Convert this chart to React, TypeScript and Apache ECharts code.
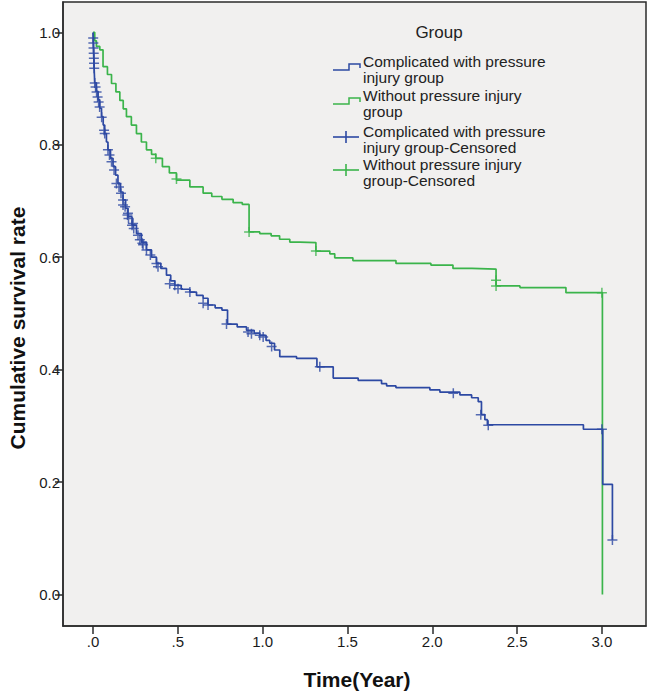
import React, { useEffect, useRef } from "react";
import * as echarts from "echarts";

// Kaplan-Meier curves: [time (year), cumulative survival]
const pressureCurve: number[][] = [
  [0, 1.0], [0.003, 0.97], [0.006, 0.94], [0.01, 0.91], [0.02, 0.895], [0.03, 0.88],
  [0.04, 0.865], [0.05, 0.85], [0.06, 0.835], [0.069, 0.82], [0.079, 0.805], [0.088, 0.791],
  [0.103, 0.776], [0.118, 0.761], [0.133, 0.746], [0.147, 0.731], [0.162, 0.716], [0.177, 0.702],
  [0.192, 0.687], [0.206, 0.672], [0.23, 0.657], [0.256, 0.642], [0.285, 0.627], [0.315, 0.613],
  [0.345, 0.6], [0.374, 0.589], [0.4, 0.58], [0.433, 0.568], [0.458, 0.558], [0.482, 0.55],
  [0.52, 0.543], [0.571, 0.538], [0.61, 0.532], [0.649, 0.527], [0.678, 0.515], [0.72, 0.51],
  [0.76, 0.506], [0.793, 0.481], [0.85, 0.476], [0.905, 0.47], [0.95, 0.465], [0.983, 0.461],
  [1.02, 0.452], [1.042, 0.447], [1.07, 0.435], [1.101, 0.423], [1.2, 0.42], [1.32, 0.405],
  [1.416, 0.385], [1.563, 0.381], [1.701, 0.375], [1.731, 0.371], [1.786, 0.368], [1.986, 0.364],
  [2.045, 0.36], [2.163, 0.355], [2.232, 0.35], [2.271, 0.343], [2.29, 0.32], [2.31, 0.311],
  [2.325, 0.302], [2.891, 0.294], [3.005, 0.196], [3.062, 0.097],
];

const withoutCurve: number[][] = [
  [0, 1.0], [0.01, 0.985], [0.02, 0.975], [0.04, 0.969], [0.059, 0.939], [0.085, 0.925],
  [0.109, 0.909], [0.135, 0.894], [0.158, 0.879], [0.178, 0.864], [0.197, 0.85], [0.226, 0.835],
  [0.256, 0.82], [0.285, 0.805], [0.315, 0.791], [0.345, 0.783], [0.37, 0.776], [0.409, 0.761],
  [0.45, 0.75], [0.492, 0.737], [0.571, 0.725], [0.649, 0.714], [0.7, 0.708], [0.76, 0.703],
  [0.826, 0.697], [0.88, 0.694], [0.92, 0.645], [0.983, 0.642], [1.05, 0.638], [1.1, 0.632],
  [1.16, 0.627], [1.22, 0.626], [1.314, 0.611], [1.396, 0.606], [1.425, 0.599], [1.532, 0.594],
  [1.786, 0.589], [1.992, 0.586], [2.122, 0.58], [2.234, 0.579], [2.376, 0.549], [2.517, 0.546],
  [2.788, 0.537], [3.003, 0.0],
];

const pressureCensored: number[][] = [
  [0.001, 0.99], [0.002, 0.981], [0.003, 0.972], [0.004, 0.963], [0.005, 0.954], [0.006, 0.945],
  [0.007, 0.936], [0.01, 0.91], [0.015, 0.903], [0.021, 0.894], [0.027, 0.885], [0.033, 0.876],
  [0.039, 0.867], [0.051, 0.849], [0.065, 0.826], [0.069, 0.82], [0.088, 0.791], [0.097, 0.782],
  [0.109, 0.77], [0.124, 0.755], [0.138, 0.731], [0.153, 0.725], [0.165, 0.714], [0.177, 0.702],
  [0.177, 0.693], [0.189, 0.69], [0.203, 0.675], [0.206, 0.678], [0.209, 0.669], [0.23, 0.657],
  [0.236, 0.66], [0.24, 0.651], [0.265, 0.639], [0.276, 0.631], [0.291, 0.625], [0.295, 0.622],
  [0.315, 0.613], [0.338, 0.604], [0.374, 0.589], [0.383, 0.583], [0.452, 0.553], [0.482, 0.55],
  [0.501, 0.544], [0.571, 0.538], [0.649, 0.518], [0.678, 0.515], [0.787, 0.481], [0.914, 0.467],
  [0.934, 0.464], [0.983, 0.461], [1.003, 0.458], [1.053, 0.441], [1.337, 0.405], [2.124, 0.358],
  [2.286, 0.32], [2.33, 0.301], [3.0, 0.294], [3.062, 0.097],
];

const withoutCensored: number[][] = [
  [0.37, 0.776], [0.492, 0.739], [0.92, 0.645], [1.314, 0.611], [2.376, 0.559], [2.376, 0.549],
  [3.0, 0.537],
];

const xTicks = [0, 0.5, 1.0, 1.5, 2.0, 2.5, 3.0];
const yTicks = [0, 0.2, 0.4, 0.6, 0.8, 1.0];

const legendTitle = "Group";
const legendLines = [
  "Complicated with pressure\ninjury group",
  "Without pressure injury\ngroup",
  "Complicated with pressure\ninjury group-Censored",
  "Without pressure injury\ngroup-Censored",
];

const BLUE = "#2d49a3";
const GREEN = "#3bb44b";
const FONT = "'Liberation Sans', Arial, sans-serif";
const PLUS = "path://M4.25,0h1.5v10h-1.5z M0,4.25h10v1.5h-10z";

export default function App() {
  const ref = useRef<HTMLDivElement>(null);
  useEffect(() => {
    document.body.style.margin = "0";
    const chart = echarts.init(ref.current!, null, { renderer: "svg" });
    const fmtX = (v: number) => (v < 1 ? v.toFixed(1).replace(/^0/, "") : v.toFixed(1));
    const legendY = [67, 101, 137, 170];
    const legendColors = [BLUE, GREEN, BLUE, GREEN];
    const graphics: any[] = [
      {
        type: "text", x: 439, y: 32,
        style: { text: legendTitle, font: `17px ${FONT}`, fill: "#222", align: "center", verticalAlign: "middle" },
      },
      {
        type: "text", x: 17, y: 328, rotation: Math.PI / 2,
        style: { text: "Cumulative survival rate", font: `bold 21px ${FONT}`, fill: "#111", align: "center", verticalAlign: "middle" },
      },
      {
        type: "text", x: 357, y: 679,
        style: { text: "Time(Year)", font: `bold 21px ${FONT}`, fill: "#111", align: "center", verticalAlign: "middle" },
      },
    ];
    legendLines.forEach((t, i) => {
      const cy = legendY[i];
      graphics.push({
        type: "text", x: 363, y: cy - 14,
        style: { text: t, font: `15.5px ${FONT}`, fill: "#222", lineHeight: 16.5 },
      });
      if (i < 2) {
        graphics.push({
          type: "polyline",
          shape: { points: [[333, cy + 3], [349, cy + 3], [349, cy - 3], [360, cy - 3], [360, cy + 1]] },
          style: { stroke: legendColors[i], lineWidth: 1.5, fill: null },
        });
      } else {
        graphics.push({
          type: "line", shape: { x1: 333, y1: cy, x2: 359, y2: cy },
          style: { stroke: legendColors[i], lineWidth: 1.6 },
        });
        graphics.push({
          type: "line", shape: { x1: 346, y1: cy - 6, x2: 346, y2: cy + 6 },
          style: { stroke: legendColors[i], lineWidth: 1.6 },
        });
      }
    });

    chart.setOption({
      animation: false,
      backgroundColor: "#ffffff",
      grid: {
        left: 63, top: 2, width: 583, height: 624,
        show: true, backgroundColor: "#f1f0ef", borderColor: "#2b2b2b", borderWidth: 1.5,
      },
      xAxis: {
        type: "value", min: -0.177, max: 3.26,
        axisLine: { show: true, onZero: false, lineStyle: { color: "#2b2b2b", width: 1.5 } },
        axisTick: { show: true, customValues: xTicks, length: 8, lineStyle: { color: "#2b2b2b", width: 1.5 } },
        axisLabel: { customValues: xTicks, formatter: fmtX, color: "#1a1a1a", fontSize: 15, fontFamily: FONT, margin: 8 },
        splitLine: { show: false },
      },
      yAxis: {
        type: "value", min: -0.056, max: 1.054,
        axisLine: { show: true, onZero: false, lineStyle: { color: "#2b2b2b", width: 1.5 } },
        axisTick: { show: true, customValues: yTicks, length: 8, lineStyle: { color: "#2b2b2b", width: 1.5 } },
        axisLabel: { customValues: yTicks, formatter: (v: number) => v.toFixed(1), color: "#1a1a1a", fontSize: 15, fontFamily: FONT, margin: 3 },
        splitLine: { show: false },
      },
      series: [
        {
          name: "Complicated with pressure injury group", type: "line", step: "end",
          data: pressureCurve, showSymbol: false, lineStyle: { color: BLUE, width: 1.7 }, z: 3,
        },
        {
          name: "Without pressure injury group", type: "line", step: "end",
          data: withoutCurve, showSymbol: false, lineStyle: { color: GREEN, width: 1.7 }, z: 2,
        },
        {
          name: "Complicated with pressure injury group-Censored", type: "scatter",
          data: pressureCensored, symbol: PLUS, symbolSize: 10, itemStyle: { color: BLUE }, z: 4,
        },
        {
          name: "Without pressure injury group-Censored", type: "scatter",
          data: withoutCensored, symbol: PLUS, symbolSize: 10, itemStyle: { color: GREEN }, z: 4,
        },
      ],
      graphic: graphics,
    });
    return () => chart.dispose();
  }, []);
  return <div ref={ref} style={{ width: 649, height: 691 }} />;
}
